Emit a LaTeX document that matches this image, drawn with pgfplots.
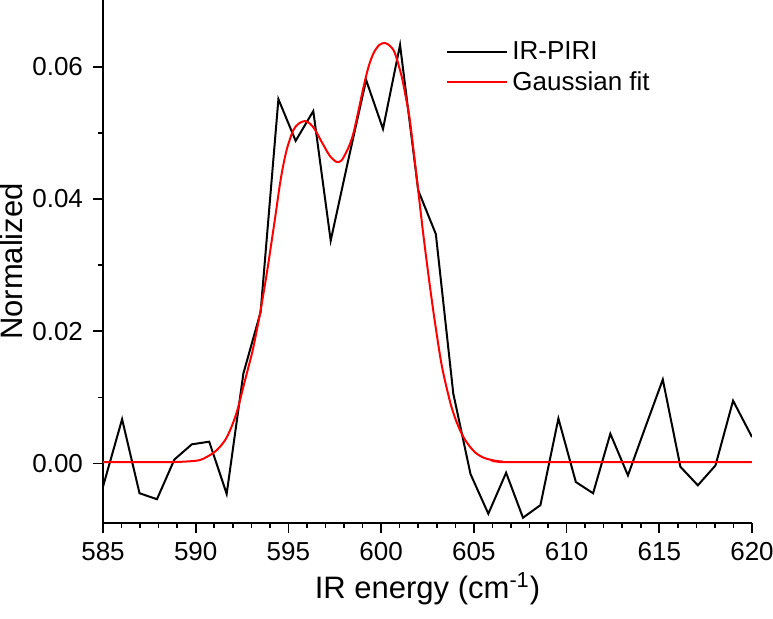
\documentclass[border=0pt]{standalone}
\usepackage{fontspec}
\setmainfont{Liberation Sans}
\usepackage{pgfplots}
\pgfplotsset{compat=1.18}

% measured IR-PIRI spectrum
\pgfplotstableread{
x y
585.00 -0.0035
586.03  0.0067
586.97 -0.0045
587.91 -0.0054
588.85  0.0006
589.79  0.0029
590.73  0.0033
591.67 -0.0046
592.57  0.0136
593.50  0.0229
594.46  0.0551
595.39  0.0488
596.34  0.0533
597.28  0.0337
598.22  0.0458
599.19  0.0580
600.10  0.0506
601.02  0.0633
602.00  0.0413
602.95  0.0347
603.89  0.0106
604.82 -0.0016
605.78 -0.0076
606.74 -0.0014
607.65 -0.0082
608.59 -0.0063
609.56  0.0068
610.50 -0.0028
611.43 -0.0045
612.36  0.0045
613.31 -0.0018
614.25  0.0055
615.19  0.0127
616.14 -0.0005
617.08 -0.0033
618.03 -0.0003
618.98  0.0095
620.00  0.0040
}\spectrum

% fitted Gaussian envelope
\pgfplotstableread{
x y
585.00 0.0002
587.00 0.0002
588.50 0.0002
589.50 0.0003
590.20 0.0005
590.60 0.0010
591.00 0.0017
591.30 0.0025
591.60 0.0036
591.85 0.0050
592.10 0.0068
592.30 0.0086
592.66 0.0126
592.90 0.0152
593.11 0.0176
593.47 0.0227
593.83 0.0287
594.10 0.0337
594.30 0.0375
594.55 0.0424
594.75 0.0455
594.95 0.0479
595.26 0.0504
595.55 0.0514
595.90 0.0518
596.20 0.0513
596.45 0.0504
596.88 0.0482
597.24 0.0465
597.60 0.0456
597.85 0.0458
598.05 0.0467
598.30 0.0482
598.50 0.0499
598.75 0.0530
599.04 0.0568
599.30 0.0598
599.58 0.0620
599.90 0.0633
600.21 0.0636
600.50 0.0631
600.75 0.0620
601.11 0.0585
601.35 0.0551
601.55 0.0519
601.92 0.0432
602.28 0.0345
602.64 0.0266
602.91 0.0212
603.27 0.0148
603.71 0.0094
604.00 0.0068
604.26 0.0050
604.50 0.0037
604.80 0.0025
605.10 0.0016
605.51 0.0009
606.00 0.0005
606.50 0.0003
607.50 0.0002
620.00 0.0002
}\gaussfit

\begin{document}
\begin{tikzpicture}
\begin{axis}[
  scale only axis,
  width=324.5pt, height=261.5pt,
  xmin=585, xmax=620,
  ymin=-0.009, ymax=0.0701,
  axis x line*=bottom,
  axis y line*=left,
  axis line style={line width=0.9pt},
  tick align=outside,
  major tick length=5pt,
  minor tick length=2.5pt,
  every tick/.style={black, line width=0.8pt},
  xtick={585,590,...,620},
  minor x tick num=4,
  ytick={0,0.02,0.04,0.06},
  minor y tick num=1,
  scaled y ticks=false,
  /pgf/number format/assume math mode=true,
  yticklabel style={xshift=-1.5pt, /pgf/number format/.cd, fixed, fixed zerofill, precision=2},
  xticklabel style={yshift=-1pt, /pgf/number format/.cd, 1000 sep={}},
  ticklabel style={font=\fontsize{13}{15}\selectfont},
  every axis x label/.style={at={(axis description cs:0.5,-0.1438)}, anchor=base},
  every axis y label/.style={at={(axis description cs:-0.1248,0.5)}, rotate=90, anchor=base},
  label style={font=\fontsize{15.5}{18}\selectfont},
  xlabel={IR energy (cm\textsuperscript{-1})},
  ylabel={Normalized},
  legend cell align=left,
  legend style={draw=none, fill=none, at={(rel axis cs:0.5285,0.929)}, anchor=north west,
    font=\fontsize{13}{15}\selectfont, inner sep=0pt, row sep=0.5pt,
    /tikz/every even column/.append style={column sep=0pt}},
  legend image code/.code={\draw[#1] (0pt,0pt) -- (30pt,0pt);},
]
\addplot[black, line width=1pt, line join=miter] table[x=x, y=y] {\spectrum};
\addlegendentry{IR-PIRI}
\addplot[red, line width=1pt, smooth] table[x=x, y=y] {\gaussfit};
\addlegendentry{Gaussian fit}
\end{axis}
\pgfresetboundingbox
\path[use as bounding box] (-51.5pt,-47.5pt) rectangle (335pt,261.5pt);
\end{tikzpicture}
\end{document}
